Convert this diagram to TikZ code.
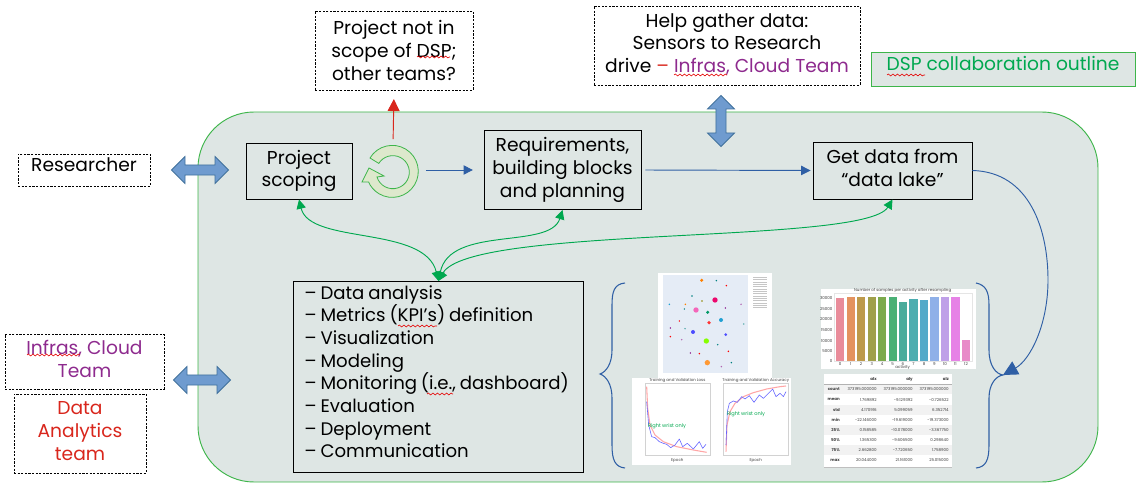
\documentclass[tikz,border=0pt]{standalone}
\usepackage{fontspec}
\setmainfont{Poppins}
\usetikzlibrary{arrows.meta,shapes.arrows,decorations.pathmorphing}

\definecolor{panelfill}{HTML}{DEE6E4}
\definecolor{panelline}{HTML}{3DB54A}
\definecolor{linkfill}{HTML}{6F9BCF}
\definecolor{linkline}{HTML}{41719C}
\definecolor{flowblue}{HTML}{2F5FA5}
\definecolor{teamred}{HTML}{D9261C}
\definecolor{teampurple}{HTML}{8E2A8E}
\definecolor{dspgreen}{HTML}{00A84F}
\definecolor{cyclefill}{HTML}{DDE8CC}
\definecolor{plotfill}{HTML}{E5ECF6}

\def\px{0.75pt}
% pushes the lines of a box up a little
\newcommand{\lift}{\\[-13pt]\mbox{}}
\tikzset{
  box/.style={draw=black, line width=.7pt, align=center, inner sep=0pt, font=\fontsize{14}{17}\selectfont},
  dashbox/.style={box, fill=white, line width=.6pt, dash pattern=on 1.6pt off 1.1pt},
  linkarrow/.style={double arrow, draw=linkline, fill=linkfill, line width=.6pt, inner sep=2.6pt,
    double arrow head extend=4.9pt, double arrow head indent=0pt},
  flowline/.style={flowblue, line width=.7pt, -{Triangle[length=7pt,width=7pt]}},
  greenlink/.style={dspgreen, line width=.7pt, {Triangle[length=7pt,width=7pt]}-{Triangle[length=7pt,width=7pt]}},
  bracket/.style={flowblue, line width=.8pt},
  squig/.style={red!90!black, line width=.45pt, decorate, decoration={snake, amplitude=.7pt, segment length=3.4pt}},
  curve/.style={line width=.45pt, line join=round},
  tiny/.style={font=\fontsize{3}{3.5}\selectfont, inner sep=0pt, text=black!75}
}

\begin{document}
\begin{tikzpicture}[x=0.75pt, y=-0.75pt]
  \useasboundingbox (0,0) rectangle (1142,491);

  % Main panel
  \draw[panelline, fill=panelfill, line width=.7pt, rounded corners=42pt] (198,112) rectangle (1098,482);

  % Boxes inside the panel
  \node[box, minimum width=106*\px, minimum height=56*\px] (scoping) at (299,171) {Project\\scoping\lift};
  \node[box, minimum width=157*\px, minimum height=79*\px] (planning) at (562.5,170) {Requirements,\\building blocks\\and planning\lift};
  \node[box, minimum width=159*\px, minimum height=57*\px] (datalake) at (892.5,170.5) {Get data from\\“data lake”\lift};
  \node[box, anchor=north west, minimum width=290*\px, minimum height=191*\px, align=left, text width=268*\px,
        font=\fontsize{13.6}{17}\selectfont] (tasks) at (293,281)
    {\spaceskip=.21em\relax – Data analysis\\– Metrics (KPI’s) definition\\– Visualization\\– Modeling\\– Monitoring (i.e., dashboard)\\– Evaluation\\– Deployment\\– Communication\lift\lift};

  % Boxes outside the panel
  \node[dashbox, minimum width=158*\px, minimum height=79*\px] (outscope) at (394,50.5) {Project not in\\scope of DSP;\\other teams?};
  \node[dashbox, minimum width=266*\px, minimum height=79*\px] (gather) at (727,45.5)
    {Help gather data:\\Sensors to Research\\drive \textcolor{teamred}{–} \textcolor{teampurple}{Infras, Cloud Team}\lift};
  \node[box, draw=panelline, fill=panelfill, line width=.6pt, text=dspgreen, minimum width=264*\px, minimum height=34*\px] (outline) at (1003,69) {DSP collaboration outline\lift\lift};
  \node[dashbox, minimum width=132*\px, minimum height=32*\px] (researcher) at (84,170) {Researcher\lift\lift};
  \node[dashbox, text=teampurple, minimum width=159*\px, minimum height=55*\px] (infras) at (84.5,361.5) {Infras, Cloud\\Team\lift};
  \node[dashbox, text=teamred, minimum width=132*\px, minimum height=79*\px] (analytics) at (80,433.5) {Data\\Analytics\\team\lift};

  % Wide double arrows
  \node[linkarrow, minimum height=57*\px, minimum width=27*\px] (researcherlink) at (200,170) {};
  \node[linkarrow, minimum height=57*\px, minimum width=27*\px] (infraslink) at (202,380) {};
  \node[linkarrow, shape border rotate=90, minimum height=51*\px, minimum width=27*\px] (gatherlink) at (721,121) {};

  % Cycle symbol
  \node[minimum size=52*\px, inner sep=0pt] (cycle) at (393,172) {};
  \draw[panelline, fill=cyclefill, line width=.6pt, line join=miter]
    (370,158) arc[start angle=149, end angle=-156, radius=19.5pt]
    -- (362,182) -- (369,168) -- (384,176) -- (377,177)
    arc[start angle=197, end angle=508, radius=12.4pt] -- cycle;

  % Flow between the boxes
  \draw[teamred, line width=.7pt, shorten <=5pt, shorten >=6.5pt, -{Triangle[length=9pt,width=9pt]}] (cycle.north) -- (outscope.south);
  \draw[flowline, shorten <=5pt, shorten >=8pt] (cycle.east |- planning.west) -- (planning.west);
  \draw[flowline, shorten <=3pt, shorten >=1.5pt] (planning.east) -- (datalake.west);

  % Green links to the task list
  \draw[greenlink] (scoping.south) .. controls (310,245) and (425,225) .. (tasks.north);
  \draw[greenlink] (planning.south) .. controls (550,250) and (450,225) .. (tasks.north);
  \draw[greenlink] (datalake.south) .. controls (865,245) and (470,225) .. (tasks.north);

  % Braces
  \draw[bracket] (625,283) .. controls (614,284) and (612,292) .. (612,305) -- (612,350)
    .. controls (612,364) and (606,372) .. (600,374) .. controls (606,376) and (612,384) .. (612,398)
    -- (612,445) .. controls (612,460) and (615,467) .. (625,468);
  \draw[bracket] (976,283) .. controls (986,285) and (989,292) .. (989,305) -- (989,350)
    .. controls (989,366) and (996,374) .. (1003,375) .. controls (996,376) and (989,384) .. (989,398)
    -- (989,445) .. controls (989,460) and (986,467) .. (976,468);
  \coordinate (bracetip) at (1003,375);

  % Data lake feeds the results
  \draw[flowblue, line width=.7pt, -{Triangle[length=11pt,width=11pt]}] (datalake.east)
    .. controls (1030,172) and (1048,230) .. (1048,280) .. controls (1048,325) and (1030,360) .. (bracetip);

  % Scatter plot
  \fill[white] (658,273) rectangle (772,378);
  \fill[plotfill] (663,275) rectangle (748,373);
  \begin{scope}[shift={(600,265)}, x=0.25pt, y=-0.25pt]
    \foreach \cx/\cy/\cc/\cr in {305/46/orange/5, 345/105/magenta!70!red/8, 288/135/magenta!60/8, 323/142/teal!80!green/5,
        363/165/cyan!70!teal/6, 327/173/red!80/5.5, 279/201/blue!70/6, 377/209/blue!70/4.5, 319/228/lime!70!green/8, 322/293/orange!80/8}
      \fill[\cc] (\cx,\cy) circle (\cr);
    \foreach \cx/\cy/\cc in {349/47/teal, 379/62/red, 276/93/teal, 306/108/olive, 256/118/orange, 253/132/teal, 208/118/cyan!70!teal,
        376/129/violet, 423/118/violet!60, 238/168/red, 211/189/violet, 255/191/teal!70, 431/177/teal!60, 211/215/red, 245/224/violet!60,
        353/239/teal, 385/259/red, 271/264/violet, 298/266/red, 394/293/teal, 364/305/violet!60}
      \fill[\cc] (\cx,\cy) circle (2.5);
    \foreach \ly in {37,44,...,128}
      \draw[gray!45, line width=.25pt] (460,\ly) -- (500,\ly);
  \end{scope}

  % Training curves
  \fill[white] (632,378) rectangle (791,465);
  \begin{scope}[shift={(600,265)}, x=0.25pt, y=-0.25pt]
    \draw[gray!35, line width=.7pt] (135,355) rectangle (330,572);
    \draw[gray!35, line width=.7pt] (370,355) rectangle (565,572);
    \node[tiny] (losstitle) at (232,348) {Training and Validation Loss};
    \node[tiny] (acctitle) at (467,348) {Training and Validation Accuracy};
    \node[tiny] (lossepoch) at (232,587) {Epoch};
    \node[tiny] (accepoch) at (467,587) {Epoch};
    \draw[curve, red!35, line width=.8pt] plot coordinates {(140,365) (143,430) (150,480) (165,510) (190,530) (230,545) (280,555) (320,562)};
    \draw[curve, blue!60] plot coordinates {(140,410) (146,480) (155,515) (165,518) (178,530) (190,535) (200,538) (212,548) (225,540) (238,522) (248,545) (262,535) (280,552) (298,530) (308,550) (318,538)};
    \draw[curve, red!35, line width=.8pt] plot coordinates {(378,560) (381,480) (390,440) (405,415) (430,395) (460,383) (500,372) (540,365) (558,363)};
    \draw[curve, blue!60] plot coordinates {(378,540) (382,440) (388,415) (400,408) (412,412) (425,395) (435,402) (448,392) (462,412) (478,390) (490,400) (505,385) (518,372) (528,395) (540,385) (550,395) (558,380)};
  \end{scope}
  \node[inner sep=0pt, text=dspgreen, font=\fontsize{3.8}{4.5}\selectfont] (lossnote) at (667,426) {Right wrist only};
  \node[inner sep=0pt, text=dspgreen, font=\fontsize{3.8}{4.5}\selectfont] (accnote) at (746,414) {Right wrist only};

  % Bar chart
  \fill[white] (821,289) rectangle (976,369);
  \begin{scope}[shift={(810,275)}, x=0.25pt, y=-0.25pt]
    \draw[gray!20, line width=.3pt] (72,55) rectangle (486,258);
    \foreach \bx/\btop/\bc/\bn in {78/70/E98C9A/0, 110/65/E4935F/1, 141/65/BD9A4B/2, 173/65/A0A04A/3, 204/65/7CAA4C/4, 236/65/4AB075/5,
        267/80/4BAC9C/6, 298/73/4CADB0/7, 330/74/53AAC9/8, 361/65/8FB0E8/9, 393/65/BFA0E8/10, 424/65/E682E6/11, 456/195/E88AC8/12} {
      \definecolor{barfill}{HTML}{\bc}
      \fill[barfill] (\bx,\btop) rectangle (\bx+25,258);
      \node[tiny] at (\bx+12,267) {\bn};
    }
    \foreach \ty/\tv in {69/30000, 101/25000, 133/20000, 165/15000, 197/10000, 228/5000, 258/0}
      \node[tiny, anchor=east] at (68,\ty) {\tv};
    \node[tiny] (bartitle) at (278,48) {Number of samples per activity after resampling};
    \node[tiny] (barlabel) at (278,277) {activity};
  \end{scope}

  % Summary table
  \fill[white] (824,374) rectangle (952,467);
  \foreach \ry in {389.5,409.7,429.9,450.1}
    \fill[gray!10] (824,\ry-5) rectangle (952,\ry+5);
  \draw[gray!60, line width=.4pt] (824,384) -- (952,384);
  \fill[gray!50] (824,466.5) rectangle (952,467.5);
  \foreach \ry/\rname/\va/\vb/\vc in {
      379.3/ /\textbf{alx}/\textbf{aly}/\textbf{alz},
      389.5/count/373195.000000/373195.000000/373195.000000,
      399.6/mean/1.769892/-9.129392/-0.726522,
      409.7/std/4.170916/5.099059/6.352714,
      419.8/min/-22.146000/-19.619000/-19.373000,
      429.9/25\%/0.158585/-10.078000/-3.367750,
      440/50\%/1.365300/-9.606500/0.298640,
      450.1/75\%/2.662800/-7.720650/1.758900,
      460.2/max/20.044000/21.161000/25.015000} {
    \node[tiny, anchor=east] at (840,\ry) {\textbf{\rname}};
    \node[tiny, anchor=east] at (877,\ry) {\va};
    \node[tiny, anchor=east] at (913,\ry) {\vb};
    \node[tiny, anchor=east] at (949,\ry) {\vc};
  }

  % Spell check marks
  \foreach \sa/\sb/\sy in {417/450/57, 674/727/75, 887/925/75, 27/80/355, 398/437/326, 427/453/394}
    \draw[squig] (\sa,\sy) -- (\sb,\sy);
\end{tikzpicture}
\end{document}
